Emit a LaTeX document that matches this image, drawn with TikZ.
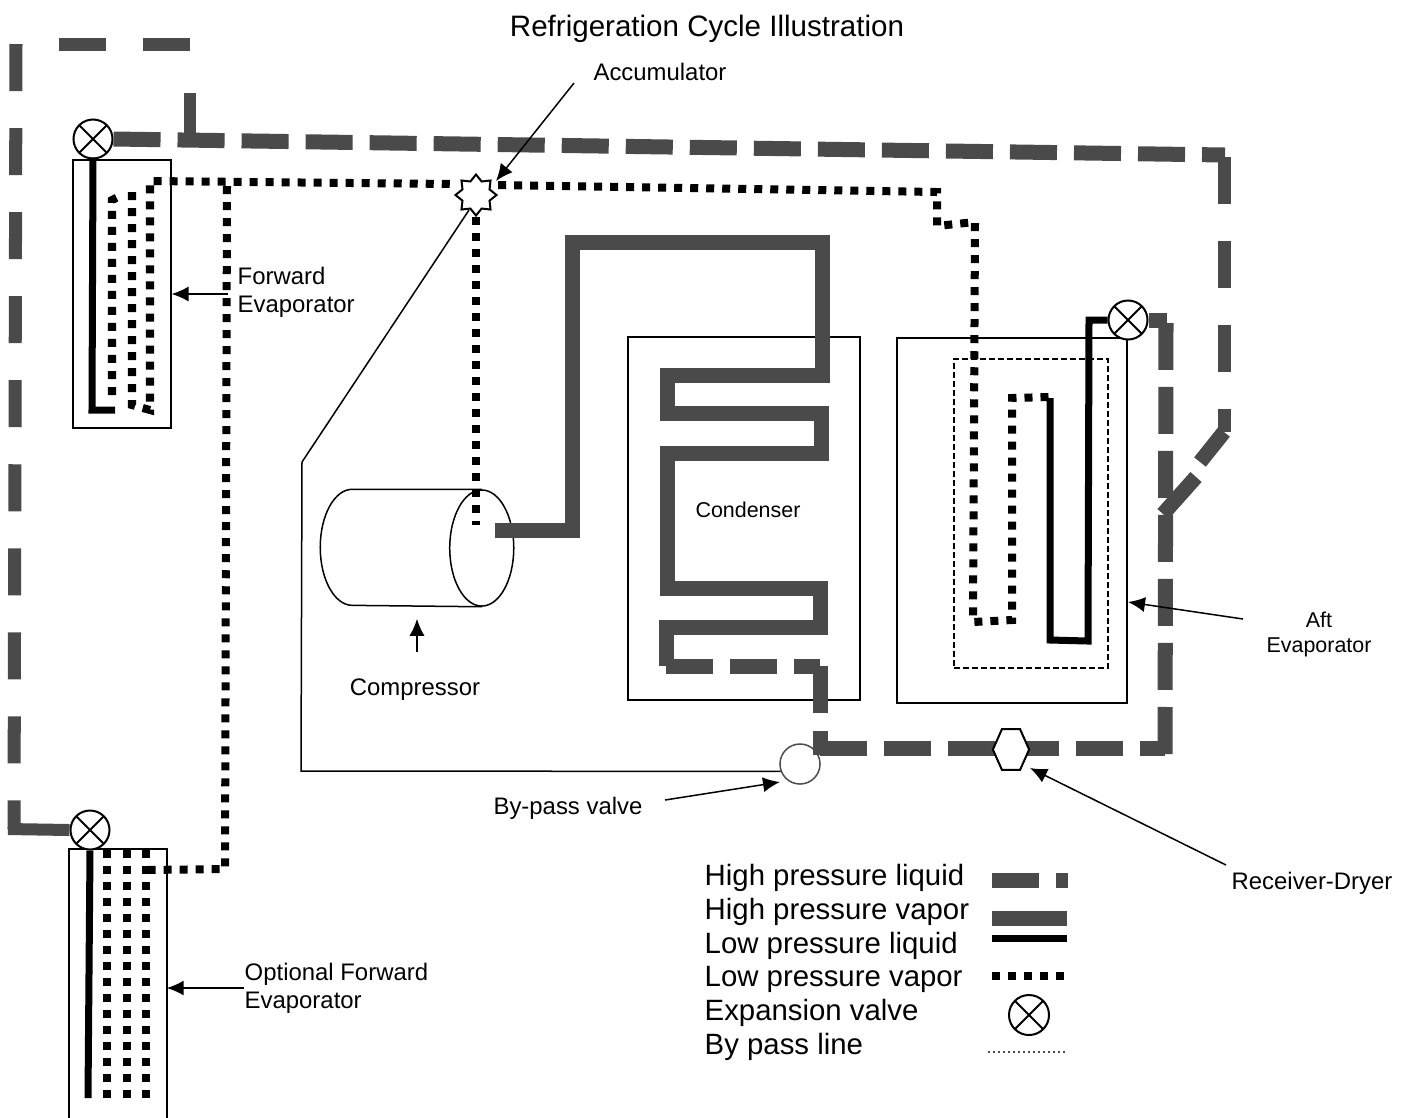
\documentclass[tikz,border=0pt]{standalone}
\usepackage{fontspec}
\setmainfont{Liberation Sans}
\usetikzlibrary{arrows.meta,shapes.geometric}
\definecolor{pipegray}{HTML}{4A4A4A}

\begin{document}
\begin{tikzpicture}[
    x=0.01cm, y=-0.01cm,
    label/.style={align=center, inner sep=0pt, font=\fontsize{6.8}{7.9}\selectfont},
    legendtext/.style={anchor=west, inner sep=0pt, font=\fontsize{8.35}{10}\selectfont},
    box/.style={draw, line width=0.02cm, inner sep=0pt},
    hpliq/.style={draw=pipegray, line width=0.15cm, dash pattern=on 0.47cm off 0.17cm},
    hpliqlong/.style={draw=pipegray, line width=0.13cm, dash pattern=on 0.47cm off 0.37cm},
    hpvap/.style={draw=pipegray, line width=0.15cm},
    lpliq/.style={draw=black, line width=0.07cm},
    lpvap/.style={draw=black, line width=0.08cm, dash pattern=on 0.08cm off 0.08cm},
    bypass/.style={draw=black, line width=0.015cm},
    valve/.style={circle, draw, fill=white, line width=0.02cm, minimum size=0.39cm, inner sep=0pt,
                  path picture={
                    \draw (path picture bounding box.north west) -- (path picture bounding box.south east);
                    \draw (path picture bounding box.north east) -- (path picture bounding box.south west);}},
    arr/.style={-{Latex[length=0.17cm,width=0.15cm]}, line width=0.015cm}
  ]
    \useasboundingbox (0,0) rectangle (1412,1117);

    % boxes
    \node[box, minimum width=0.97cm, minimum height=2.68cm] (fwdbox) at (122,294) {};
    \node[minimum width=0.96cm, minimum height=2.67cm, inner sep=0pt] (optbox) at (118,983.5) {};
    \draw[line width=0.02cm] (optbox.south west) -- (optbox.north west) -- (optbox.north east) -- (optbox.south east);
    \node[box, minimum width=2.31cm, minimum height=3.63cm] (condbox) at (744,518.5) {};
    \node[box, minimum width=2.3cm, minimum height=3.65cm] (aftbox) at (1012,520.5) {};
    \node[draw, line width=0.015cm, dash pattern=on 0.06cm off 0.03cm, inner sep=0pt,
          minimum width=1.54cm, minimum height=3.09cm] (aftinner) at (1031,513.5) {};

    % compressor
    \node[minimum width=1.92cm, minimum height=1.16cm, inner sep=0pt] (compressor) at (417,548) {};
    \draw[line width=0.015cm] (compressor.north east) ++(-32,0) -- ([xshift=0.32cm]compressor.north west)
       arc[start angle=90, end angle=270, x radius=0.32cm, y radius=0.58cm]
       -- ([xshift=-0.32cm]compressor.south east);
    \draw[line width=0.015cm] ([xshift=-0.32cm]compressor.east) ellipse [x radius=0.32cm, y radius=0.58cm];

    % by-pass line
    \coordinate (bypassa) at (302,462);
    \coordinate (bypassb) at (301,771);
    \coordinate (accfoot) at (469,210);
    \node[circle, draw=black!70, line width=0.015cm, fill=white, minimum size=0.4cm, inner sep=0pt] (bypassvalve) at (800,764) {};
    \draw[bypass] (accfoot) -- (bypassa) -- (bypassb) -- (bypassvalve.201);

    % high pressure liquid, top and left
    \coordinate (fwdout) at (1225,155);
    \coordinate (bend) at (1224,432);
    \coordinate (topright) at (190,44);
    \coordinate (topleft) at (22,44);
    \coordinate (leftup) at (16,44);
    \coordinate (leftdown) at (14,829);
    \coordinate (stubup) at (190,93);
    \coordinate (stubdown) at (190,137);
    \coordinate (diaga) at (1200,462);
    \coordinate (diagb) at (1196,477);
    \coordinate (diagc) at (1163,514);
    \node[valve] (fwdvalve) at (93,139) {};
    \node[valve] (optvalve) at (90,830) {};
    \node[valve] (aftvalve) at (1128,320) {};
    \draw[hpliq] (fwdvalve.east) -- (fwdout);
    \draw[hpliqlong] (1224,157) -- (bend);
    \draw[hpliq, solid] (bend) -- (diaga);
    \draw[hpliq, solid] (diagb) -- (diagc);
    \draw[hpliq, solid, line width=0.12cm] (stubup) -- (stubdown);
    \draw[hpliqlong] (topright) -- (topleft);
    \draw[hpliqlong] (leftup) -- (leftdown);
    \draw[hpliq, solid, line width=0.12cm] (leftdown) ++(-6,0) -- (optvalve.west);

    % high pressure liquid, aft side
    \coordinate (condout) at (666,666);
    \coordinate (condcorner) at (820,666);
    \coordinate (condend) at (820,713);
    \coordinate (lowstart) at (820,731);
    \coordinate (lowcorner) at (820,748);
    \coordinate (aftcorner) at (1165,748);
    \coordinate (aftup) at (1166,323);
    \coordinate (aftstub) at (1167,320);
    \draw[hpliq] (condout) -- (condcorner);
    \draw[hpliq, solid] (condcorner) -- (condend);
    \draw[hpliq, solid] (lowstart) -- ([yshift=-0.07cm]lowcorner);
    \draw[hpliq] (lowcorner) -- (aftcorner);
    \draw[hpliq] ([yshift=-0.06cm]aftcorner) -- (aftup);
    \draw[hpliq, solid] (aftvalve.east) -- (aftstub);
    \node[regular polygon, regular polygon sides=6, draw, fill=white, line width=0.02cm, inner sep=0pt,
          minimum size=0.47cm, xscale=0.77] (receiver) at (1011,749.5) {};

    % high pressure vapor
    \draw[hpvap] (495,530) -- (572,530) -- (572,242) -- (822,242) -- (822,375) -- (667,375) -- (667,413)
       -- (821,413) -- (821,453) -- (667,453) -- (667,588) -- (820,588) -- (820,627) -- (666,627) -- (condout);

    % low pressure liquid
    \draw[lpliq] (fwdvalve.south) ++(0,-2) -- (92,410) -- (115,410);
    \draw[lpliq] (aftvalve.west) -- (1089,320) -- (1088,641) -- (1050,640) -- (1050,398);
    \draw[lpliq] (optvalve.south) -- (88,1098);

    % low pressure vapor
    \node[star, star points=8, star point ratio=1.4, draw, fill=white, line width=0.02cm, inner sep=0pt,
          minimum size=0.41cm] (accum) at (476,195) {};
    \draw[lpvap] (112,395) -- (112,200) -- (118,197);
    \draw[lpvap] (132,192) -- (132,405) -- (150,410) -- (150,181) -- (accum.west |- 150,184);
    \draw[lpvap] (227,186) -- (225,869) -- (146,870);
    \draw[lpvap] (accum.south) -- (476,525);
    \draw[lpvap] (accum.east |- 150,185) -- (937,192) -- (937,226) -- (975,222) -- (973,622) -- (1012,620) -- (1012,398) -- (1050,397);
    \draw[lpvap] (107,850) -- (107,1098);
    \draw[lpvap] (127,850) -- (127,1098);
    \draw[lpvap] (146,850) -- (146,1098);

    % labels
    \node[font=\fontsize{8.4}{10}\selectfont, inner sep=0pt] (title) at (707,28.5) {Refrigeration Cycle Illustration};
    \node[label] (acclabel) at (660,72) {Accumulator};
    \node[label, align=left, anchor=west] (fwdlabel) at (237,292) {Forward\\Evaporator};
    \node[label, align=left, anchor=west] (optlabel) at (244,988) {Optional Forward\\Evaporator};
    \node[label] (complabel) at (415,690) {Compressor};
    \node[label, font=\fontsize{6.1}{7}\selectfont] (condlabel) at (748,510) {Condenser};
    \node[label, font=\fontsize{6.1}{7}\selectfont] (aftlabel) at (1319,634.5) {Aft\\Evaporator};
    \node[label] (passlabel) at (568,808) {By-pass valve};
    \node[label] (reclabel) at (1312,883) {Receiver-Dryer};

    % pointers
    \coordinate (acctail) at (574,83);
    \coordinate (acctip) at (496,181);
    \coordinate (comptail) at (417,652);
    \coordinate (afttail) at (1243,619);
    \coordinate (aftpoint) at (1128,602);
    \coordinate (passtail) at (665,800);
    \coordinate (passtip) at (780,782);
    \coordinate (rectail) at (1226,865);
    \coordinate (rectip) at (1030,768);
    \draw[arr] (acctail) -- (acctip);
    \draw[arr] ([xshift=-0.09cm]fwdlabel.west |- fwdbox.east) -- (fwdbox.east);
    \draw[arr] (optlabel.west) -- (optbox.east |- optlabel.west);
    \draw[arr, shorten >=0.12cm] (comptail) -- (comptail |- compressor.south);
    \draw[arr] (afttail) -- (aftpoint);
    \draw[arr] (passtail) -- (passtip);
    \draw[arr] (rectail) -- (rectip);

    % legend
    \node[legendtext] (keyhpl) at (704,877.5) {High pressure liquid};
    \node[legendtext] (keyhpv) at (704,911.5) {High pressure vapor};
    \node[legendtext] (keylpl) at (704,945.5) {Low pressure liquid};
    \node[legendtext] (keylpv) at (704,979.5) {Low pressure vapor};
    \node[legendtext] (keyexp) at (704,1012.5) {Expansion valve};
    \node[legendtext] (keybyp) at (704,1046.5) {By pass line};
    \coordinate (sampa) at (992,880);
    \coordinate (sampb) at (1068,880);
    \coordinate (sampc) at (992,918);
    \coordinate (sampd) at (1067,918);
    \coordinate (sampe) at (992,938);
    \coordinate (sampf) at (1067,938);
    \coordinate (sampg) at (992,976);
    \coordinate (samph) at (1064,976);
    \coordinate (sampi) at (988,1052);
    \coordinate (sampj) at (1068,1052);
    \draw[hpliq] (sampa) -- (sampb);
    \draw[hpvap] (sampc) -- (sampd);
    \draw[lpliq] (sampe) -- (sampf);
    \draw[lpvap] (sampg) -- (samph);
    \node[valve, minimum size=0.4cm] (sampvalve) at (1029,1015) {};
    \draw[bypass, densely dotted, draw=black!70] (sampi) -- (sampj);
  \end{tikzpicture}
\end{document}
